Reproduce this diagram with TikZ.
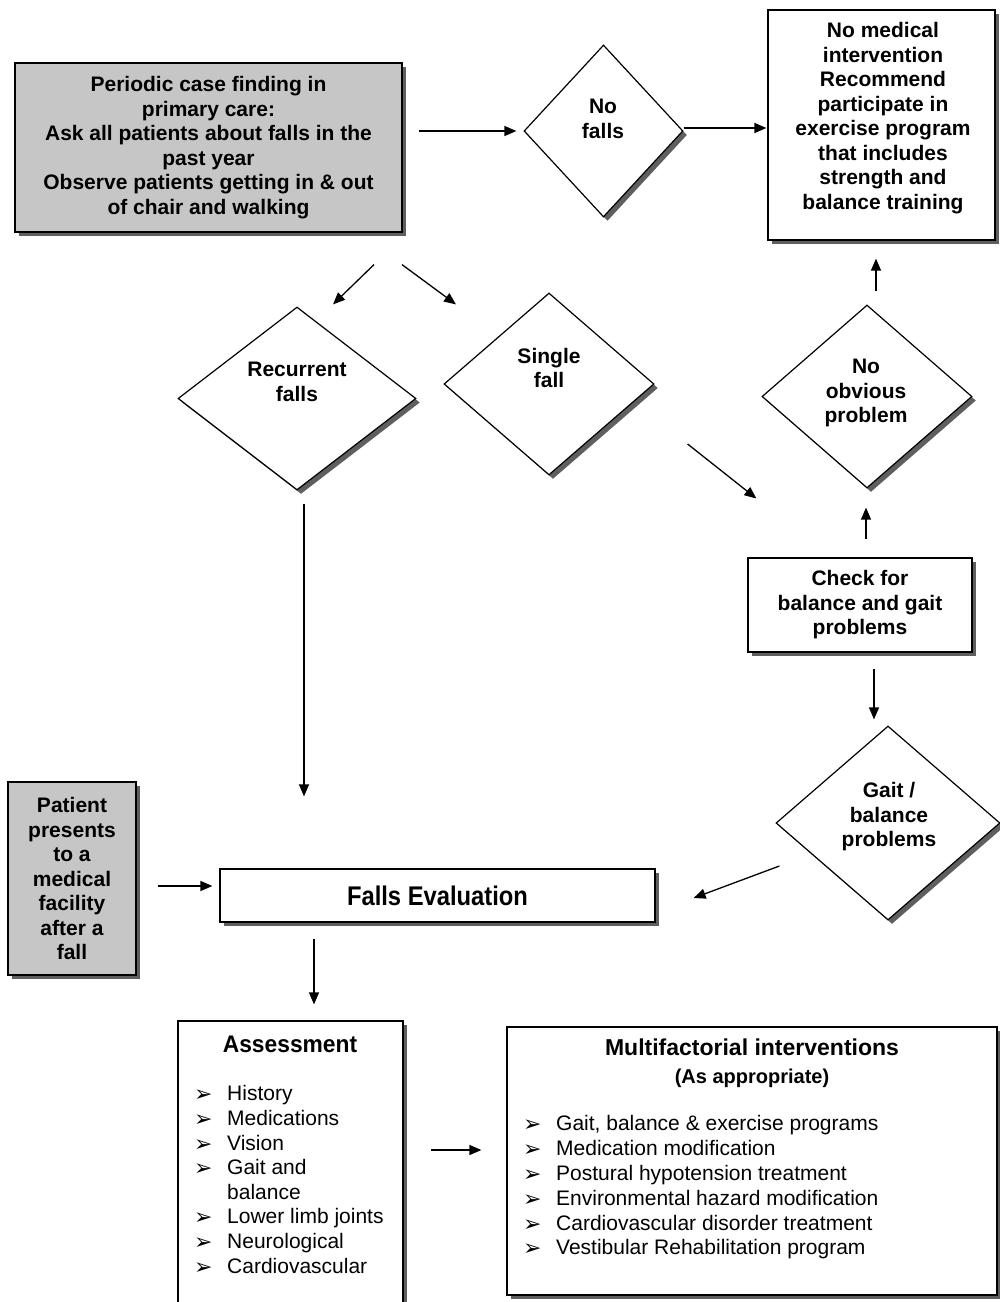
\documentclass[tikz,border=0pt]{standalone}
\usepackage{fontspec}
\setmainfont{Liberation Sans}
\newfontfamily\symfont{DejaVu Sans}
\newfontfamily\condfont[FakeStretch=0.88]{Liberation Sans}
\newfontfamily\semicond[FakeStretch=0.95]{Liberation Sans}
\usetikzlibrary{shapes.geometric,shadows,arrows.meta}
\definecolor{boxgray}{RGB}{198,198,198}
\definecolor{shadowgray}{RGB}{95,95,95}
\newcommand\bul{\makebox[33pt][l]{\symfont\fontsize{22}{22}\selectfont\raisebox{-1pt}{➢}}}
\tikzset{
  shade/.style={drop shadow={shadow xshift=4pt,shadow yshift=-4pt,fill=shadowgray,opacity=1}},
  box/.style={draw, line width=1.2pt, fill=white, shade, inner sep=0pt, align=center,
    font=\fontsize{21}{24.5}\selectfont\bfseries},
  graybox/.style={box, fill=boxgray},
  decision/.style={diamond, draw, line width=1.2pt, fill=white, shade, inner sep=0pt},
  dtext/.style={align=center, inner sep=0pt, font=\fontsize{21}{24.5}\selectfont\bfseries},
  listtext/.style={align=left, inner sep=0pt, anchor=north west, font=\fontsize{21}{24.6}\selectfont},
  arr/.style={line width=1.3pt, -{Triangle[length=12pt,width=10pt]}},
}
\begin{document}
\begin{tikzpicture}[x=1pt,y=-1pt]
\useasboundingbox (0,0) rectangle (1000,1302);
\clip (0,0) rectangle (1000,1302);

% boxes
\node[graybox, minimum width=387pt, minimum height=169pt] (case) at (208.5,147.5)
  {Periodic case finding in\\primary care:\\Ask all patients about falls in the\\past year\\Observe patients getting in \& out\\of chair and walking};
\node[box, minimum width=227pt, minimum height=230pt] (nomed) at (881.5,125) {};
\node[dtext] (nomed-t) at (883,118)
  {No medical\\intervention\\Recommend\\participate in\\exercise program\\that includes\\strength and\\balance training};
\node[box, minimum width=224pt, minimum height=94pt] (check) at (860,605)
  {Check for\\balance and gait\\problems};
\node[graybox, minimum width=128pt, minimum height=193pt] (patient) at (72,878.5)
  {Patient\\presents\\to a\\medical\\facility\\after a\\fall};
\node[box, minimum width=435pt, minimum height=53pt, font=\fontsize{27}{30}\selectfont\condfont\bfseries] (eval) at (437.5,895.5)
  {Falls Evaluation};
\node[box, minimum width=225pt, minimum height=299pt] (assess) at (290.5,1170.5) {};
\node[box, minimum width=490pt, minimum height=268pt] (multi) at (752,1161) {};

% decisions
\node[decision, minimum width=159pt, minimum height=172pt] (nofalls) at (603.5,131) {};
\node[dtext] (nofalls-t) at (603,119) {No\\falls};
\node[decision, minimum width=238pt, minimum height=183pt] (rec) at (297,398.5) {};
\node[dtext] (rec-t) at (297,382) {Recurrent\\falls};
\node[decision, minimum width=210pt, minimum height=182pt] (single) at (549,384) {};
\node[dtext] (single-t) at (549,368) {Single\\fall};
\node[decision, minimum width=210pt, minimum height=183pt] (noobv) at (867,396.5) {};
\node[dtext] (noobv-t) at (866,393) {No\\obvious\\problem};
\node[decision, minimum width=224pt, minimum height=194pt] (gait) at (888,823) {};
\node[dtext] (gait-t) at (889,817) {Gait /\\balance\\problems};

% contents of the two lower boxes
\node[inner sep=0pt, font=\fontsize{24}{26}\selectfont\semicond\bfseries] (assess-h) at (290,1044) {Assessment};
\node[listtext] (assess-l) at (194,1085.5)
  {\bul History\\\bul Medications\\\bul Vision\\\bul Gait and\\\hspace*{33pt}balance\\\bul Lower limb joints\\\bul Neurological\\\bul Cardiovascular};
\node[inner sep=0pt, align=center, font=\fontsize{23}{28}\selectfont\bfseries] (multi-h) at (752,1063)
  {Multifactorial interventions\\{\fontsize{20}{20}\selectfont(As appropriate)}};
\node[listtext, font=\fontsize{21}{24.8}\selectfont] (multi-l) at (523,1115.5)
  {\bul Gait, balance \& exercise programs\\\bul Medication modification\\\bul Postural hypotension treatment\\\bul Environmental hazard modification\\\bul Cardiovascular disorder treatment\\\bul Vestibular Rehabilitation program};

% connectors
\draw[arr, shorten <=16pt, shorten >=7pt] (case.east |- nofalls.west) -- (nofalls.west);
\draw[arr, shorten >=1pt] ([yshift=3pt]nofalls.east) -- ([yshift=3pt]nofalls.east -| nomed.west);
\draw[arr, shorten >=18pt] ([xshift=9pt,yshift=13pt]noobv.north) -- ([xshift=9pt]noobv.north |- nomed.south);
\draw[arr, shorten <=18pt, shorten >=19pt] ([xshift=6pt]check.north) -- ([xshift=6pt]check.north |- noobv.south);
\draw[arr, shorten <=16pt, shorten >=6pt] ([xshift=14pt]check.south) -- ([xshift=14pt]check.south |- gait.north);
\draw[arr] ([xshift=4pt,yshift=-43pt]gait.west) -- ([xshift=38pt,yshift=-2.5pt]eval.east);
\draw[arr] ([xshift=33pt,yshift=-60pt]single.east) -- ([xshift=-5pt,yshift=-102pt]noobv.west);
\draw[arr] ([xshift=165.5pt,yshift=-32pt]case.south) -- ([xshift=36pt,yshift=2pt]rec.north);
\draw[arr] ([xshift=193.5pt,yshift=-32pt]case.south) -- ([xshift=-93pt,yshift=-12pt]single.north);
\draw[arr, shorten >=72pt] ([xshift=7pt,yshift=-13pt]rec.south) -- ([xshift=7pt]rec.south |- eval.north);
\draw[arr, shorten <=21pt, shorten >=7pt] ([yshift=-7.5pt]patient.east) -- ([yshift=-7.5pt]patient.east -| eval.west);
\draw[arr, shorten <=16pt, shorten >=16pt] ([xshift=-123.5pt]eval.south) -- ([xshift=-123.5pt]eval.south |- assess.north);
\draw[arr, shorten <=27pt, shorten >=25pt] ([yshift=11pt]multi.west -| assess.east) -- ([yshift=11pt]multi.west);
\end{tikzpicture}
\end{document}
